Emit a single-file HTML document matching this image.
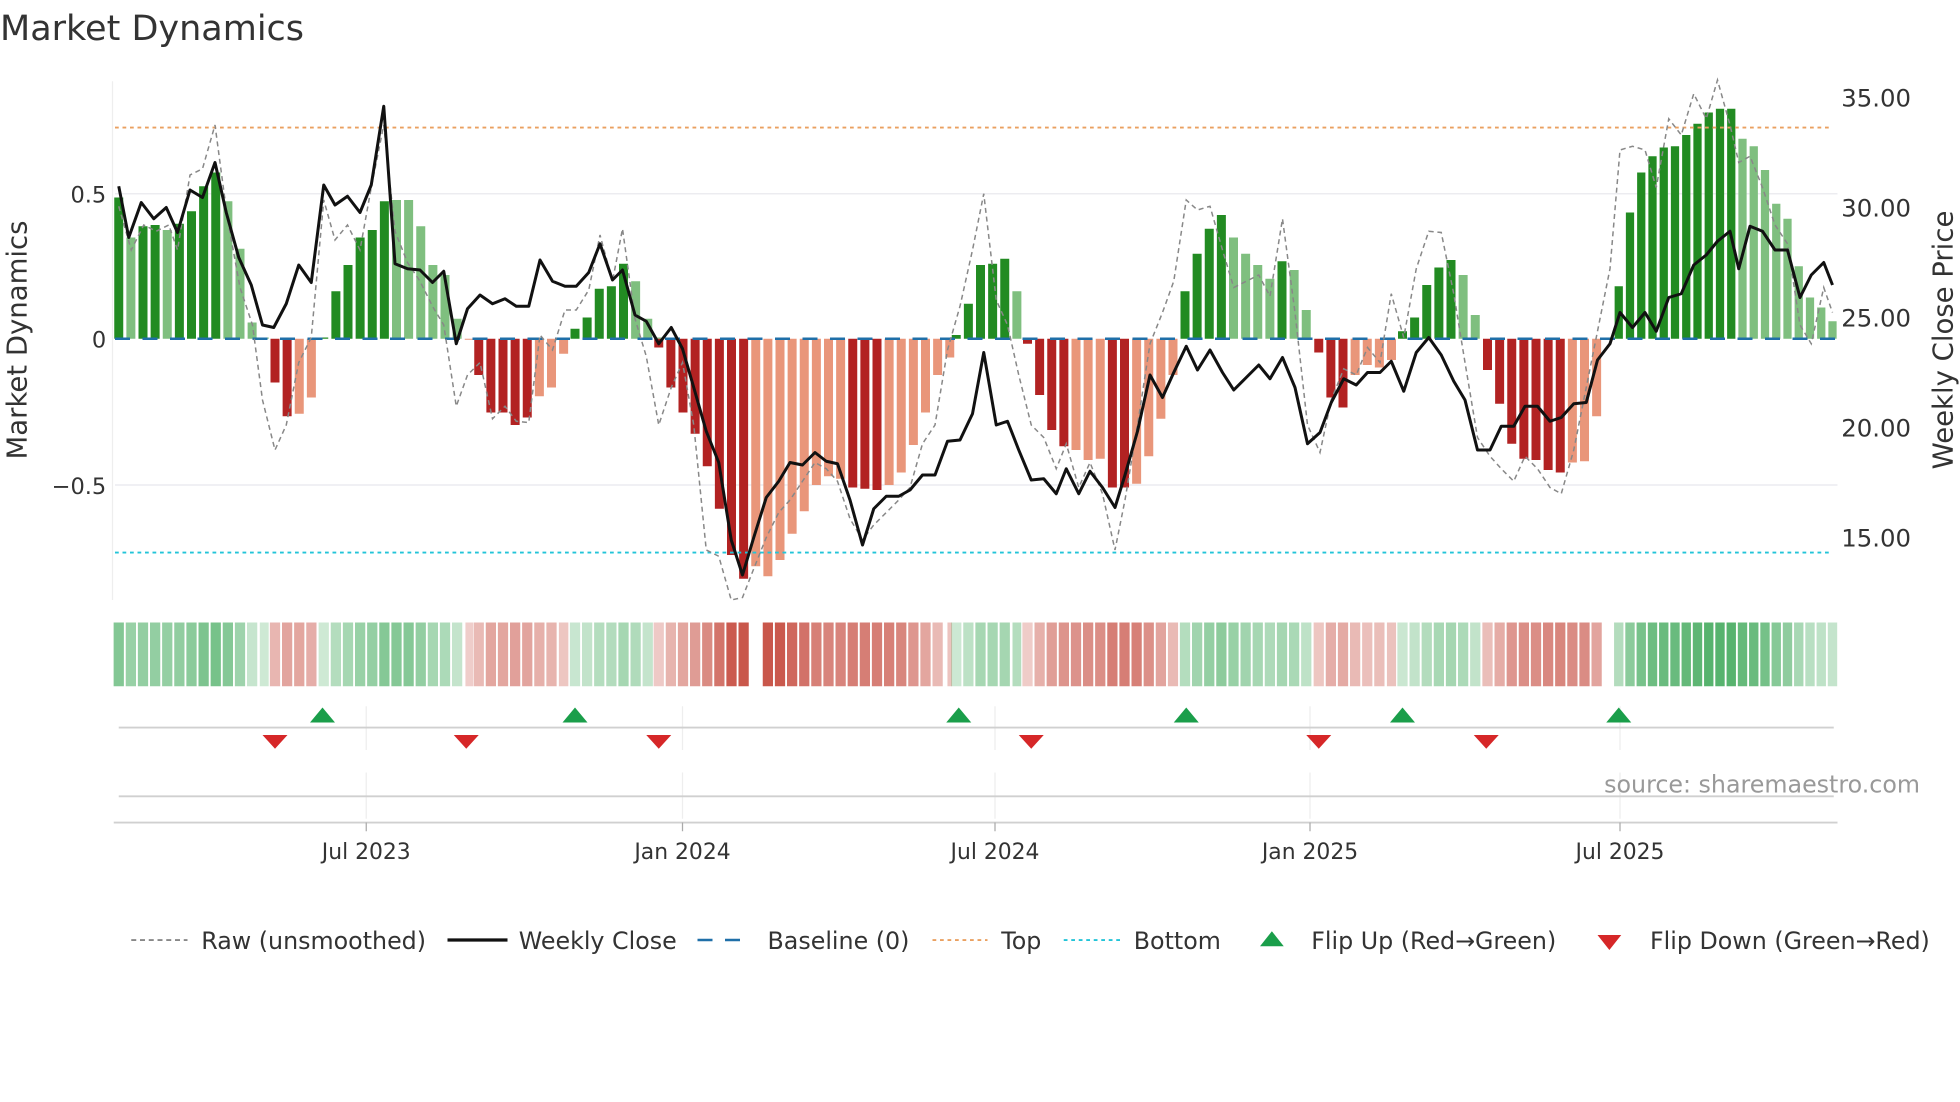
<!DOCTYPE html>
<html><head><meta charset="utf-8"><style>
html,body{margin:0;padding:0;background:#fff;}
svg{display:block;font-family:"DejaVu Sans","Liberation Sans",sans-serif;}
</style></head><body>
<svg id="s" width="1960" height="1102" viewBox="0 0 1568 881.6" xmlns="http://www.w3.org/2000/svg">
<rect width="1568" height="881.6" fill="#fff"/>
<text x="0" y="32" font-size="28" fill="#333">Market Dynamics</text>
<line x1="92" y1="155" x2="1470" y2="155" stroke="#ececf0" stroke-width="1.2"/>
<line x1="92" y1="388" x2="1470" y2="388" stroke="#ececf0" stroke-width="1.2"/>
<line x1="90" y1="65" x2="90" y2="480" stroke="#eee" stroke-width="1"/>
<g id="bars"></g>
<line x1="92" y1="271" x2="1470" y2="271" stroke="#1f6fa8" stroke-width="2" stroke-dasharray="12,10"/>
<line x1="92" y1="102" x2="1465" y2="102" stroke="#eaa060" stroke-width="1.5" stroke-dasharray="3,3"/>
<line x1="92" y1="442" x2="1465" y2="442" stroke="#22c4d8" stroke-width="1.5" stroke-dasharray="3,3"/>
<polyline id="raw" fill="none" stroke="#888" stroke-width="1.2" stroke-dasharray="4,3"/>
<polyline id="close" fill="none" stroke="#111" stroke-width="2.4" stroke-linejoin="round"/>
<g font-size="18" fill="#333">
<text x="85" y="162" text-anchor="end">0.5</text>
<text x="85" y="278" text-anchor="end">0</text>
<text x="85" y="395" text-anchor="end">−0.5</text>
</g>
<g font-size="19.5" fill="#333">
<text x="1473" y="85">35.00</text>
<text x="1473" y="173">30.00</text>
<text x="1473" y="261">25.00</text>
<text x="1473" y="349">20.00</text>
<text x="1473" y="437">15.00</text>
</g>
<text transform="translate(21,272) rotate(-90)" text-anchor="middle" font-size="22" fill="#333">Market Dynamics</text>
<text transform="translate(1562,272) rotate(-90)" text-anchor="middle" font-size="22" fill="#333">Weekly Close Price</text>
<g id="strip"></g>
<g stroke="#eee" stroke-width="1">
<line x1="293" y1="565" x2="293" y2="600"/><line x1="546" y1="565" x2="546" y2="600"/><line x1="796" y1="565" x2="796" y2="600"/><line x1="1048" y1="565" x2="1048" y2="600"/><line x1="1296" y1="565" x2="1296" y2="600"/>
<line x1="293" y1="618" x2="293" y2="655"/><line x1="546" y1="618" x2="546" y2="655"/><line x1="796" y1="618" x2="796" y2="655"/><line x1="1048" y1="618" x2="1048" y2="655"/><line x1="1296" y1="618" x2="1296" y2="655"/>
</g>
<line x1="95" y1="582" x2="1467" y2="582" stroke="#d0d0d0" stroke-width="1.5"/>
<line x1="95" y1="637" x2="1467" y2="637" stroke="#d0d0d0" stroke-width="1.5"/>
<line x1="91" y1="658" x2="1470" y2="658" stroke="#d0d0d0" stroke-width="1.5"/>
<g id="mk"></g>
<g stroke="#aaa" stroke-width="1"><line x1="293" y1="658" x2="293" y2="665"/><line x1="546" y1="658" x2="546" y2="665"/><line x1="796" y1="658" x2="796" y2="665"/><line x1="1048" y1="658" x2="1048" y2="665"/><line x1="1296" y1="658" x2="1296" y2="665"/></g>
<g font-size="17.5" fill="#333" text-anchor="middle">
<text x="293" y="687">Jul 2023</text><text x="546" y="687">Jan 2024</text><text x="796" y="687">Jul 2024</text><text x="1048" y="687">Jan 2025</text><text x="1296" y="687">Jul 2025</text>
</g>
<text x="1536" y="634" text-anchor="end" font-size="19" fill="#999">source: sharemaestro.com</text>
<g font-size="19" fill="#333">
<line x1="105" y1="752" x2="150" y2="752" stroke="#888" stroke-width="1.5" stroke-dasharray="4,3"/>
<text x="161" y="759">Raw (unsmoothed)</text>
<line x1="358" y1="752" x2="406" y2="752" stroke="#111" stroke-width="2.6"/>
<text x="415" y="759">Weekly Close</text>
<line x1="558" y1="752" x2="602" y2="752" stroke="#1f6fa8" stroke-width="2" stroke-dasharray="12,10"/>
<text x="614" y="759">Baseline (0)</text>
<line x1="746" y1="752" x2="790" y2="752" stroke="#eaa060" stroke-width="1.5" stroke-dasharray="3,3"/>
<text x="801" y="759">Top</text>
<line x1="851" y1="752" x2="896" y2="752" stroke="#22c4d8" stroke-width="1.5" stroke-dasharray="3,3"/>
<text x="907" y="759">Bottom</text>
<polygon points="1008,757 1027,757 1017.5,745" fill="#1a9e4a"/>
<text x="1049" y="759">Flip Up (Red→Green)</text>
<polygon points="1278,748 1297,748 1287.5,760" fill="#d62728"/>
<text x="1320" y="759">Flip Down (Green→Red)</text>
</g>
</svg>
<script>
var NS="http://www.w3.org/2000/svg";
function el(p,t,a){var e=document.createElementNS(NS,t);for(var k in a)e.setAttribute(k,a[k]);p.appendChild(e);return e;}
var G=[
[95,[[158,1],[190,0],[181,1],[180,1],[184,0],[179,1],[169,1],[149,1],[138,1],[161,0],[199,0],[258,0],[270,0]]],
[220,[[306,1],[333,1],[331,0],[318,0]]],
[259,[[270,1],[233,1],[212,1],[190,1],[184,1],[161,1],[160,0],[160,0],[181,0],[212,0],[220,0],[255,0],[271,0]]],
[383,[[300,1],[330,1],[330,1],[340,1],[334,1],[317,0],[310,0],[283,0]]],
[460,[[263,1],[254,1],[231,1],[229,1],[211,1],[225,0],[255,0],[270,0]]],
[527,[[278,1],[310,1],[330,1],[347,1],[373,1],[407,1],[444,1],[463,1],[453,0],[461,0],[448,0],[427,0],[409,0],[388,0],[381,0],[383,0],[390,1],[391,1],[392,1],[388,0],[378,0],[356,0],[330,0],[300,0],[286,0]]],
[765,[[268,1],[243,1],[212,1],[211,1],[207,1],[233,0]]],
[822,[[275,1],[316,1],[344,1],[357,1],[360,0],[368,0],[367,0],[390,1],[390,1],[387,0],[365,0],[335,0],[300,0]]],
[948,[[233,1],[203,1],[183,1],[172,1],[190,0],[203,0],[212,0],[223,0],[209,1],[216,0],[248,0]]],
[1055,[[282,1],[318,1],[326,1],[300,0],[292,0],[294,0],[288,0]]],
[1122,[[265,1],[254,1],[228,1],[214,1],[208,1],[220,0],[252,0]]],
[1190,[[296,1],[323,1],[355,1],[367,1],[368,1],[376,1],[378,1],[370,0],[369,0],[333,0]]],
[1295,[[229,1],[170,1],[138,1],[125,1],[118,1],[117,1],[108,1],[99,1],[90,1],[87,1],[87,1],[111,0],[117,0],[136,0],[163,0],[175,0],[213,0],[238,0],[246,0],[257,0]]]
];
var bars=document.getElementById('bars'),strip=document.getElementById('strip');
var all=[];
G.forEach(function(g){var step=g[0]==1295?9.0:9.7;g[1].forEach(function(b,i){all.push([g[0]+i*step,b[0],b[1]]);});});
all.forEach(function(b,idx){
 var x=b[0],y=b[1],pos=y<271;
 var col=pos?(b[2]?"#228b22":"#7fbf7f"):(b[2]?"#b22222":"#e9967a");
 var top=Math.min(y,271),h=Math.abs(271-y);
 if(h<0.8)h=0.8;
 var w=x>=1295?6.6:7.2;
 el(bars,'rect',{x:x-w/2,y:top,width:w,height:h,fill:col});
 if(x>596&&x<606)return;
 var nx=idx<all.length-1?all[idx+1][0]:x+9;
 var sw=Math.min(nx-x,9.7)-1.5;
 var m=Math.min(Math.abs(271-y)/180,1);
 var op=0.25+0.6*m;
 el(strip,'rect',{x:x-sw/2,y:498,width:sw,height:51,fill:pos?"#3aa655":"#c0392b","fill-opacity":op.toFixed(2)});
});
var close=[[95,149],[103,190],[113,162],[123,175],[133,166],[142,186],[152,152],[162,158],[172,130],[181,170],[191,206],[201,228],[210,260],[219,262],[229,243],[239,212],[249,226],[259,148],[268,164],[278,157],[288,170],[297,148],[307,85],[316,211],[326,215],[336,216],[346,226],[355,217],[365,275],[374,247],[384,236],[394,243],[404,239],[413,245],[423,245],[432,208],[442,225],[452,229],[461,229],[471,218],[480,195],[490,224],[498,216],[508,252],[517,257],[527,275],[537,262],[546,279],[555,310],[565,345],[575,370],[585,432],[594,460],[603,430],[613,398],[623,385],[632,370],[642,372],[652,362],[661,369],[670,371],[680,400],[690,436],[699,407],[709,397],[719,397],[728,392],[738,380],[748,380],[758,353],[768,352],[778,331],[787,282],[797,340],[806,337],[815,360],[825,384],[835,383],[845,395],[853,375],[863,395],[872,377],[882,390],[892,406],[900,380],[910,345],[920,300],[930,318],[939,298],[949,277],[958,296],[968,280],[978,298],[987,312],[997,302],[1007,292],[1016,303],[1026,286],[1036,310],[1046,355],[1056,346],[1065,322],[1075,303],[1085,308],[1094,298],[1104,298],[1113,289],[1123,313],[1133,282],[1143,270],[1153,284],[1163,305],[1172,320],[1182,360],[1192,360],[1201,341],[1211,341],[1220,325],[1230,325],[1240,337],[1249,334],[1259,323],[1269,322],[1278,288],[1288,275],[1296,250],[1306,262],[1316,250],[1325,265],[1335,238],[1345,235],[1355,212],[1365,204],[1374,193],[1384,185],[1391,215],[1400,181],[1410,185],[1420,200],[1430,200],[1440,238],[1449,220],[1459,210],[1466,228]];
var raw=[[95,165],[105,200],[115,180],[125,185],[135,180],[142,200],[152,140],[162,135],[172,100],[182,175],[192,230],[202,260],[210,320],[220,360],[229,340],[239,290],[249,270],[259,160],[268,192],[278,180],[288,200],[297,150],[307,100],[316,185],[326,210],[336,225],[346,245],[355,260],[365,325],[374,300],[384,290],[394,335],[404,325],[413,337],[423,338],[432,268],[442,280],[452,248],[461,248],[471,232],[480,188],[490,225],[498,183],[508,255],[517,285],[527,340],[537,310],[546,290],[555,340],[565,440],[575,445],[585,480],[594,478],[603,455],[613,430],[623,410],[632,400],[642,385],[652,370],[661,375],[670,385],[680,415],[690,432],[699,420],[709,410],[719,400],[728,390],[738,355],[748,340],[758,280],[768,245],[778,200],[787,155],[797,240],[806,260],[815,300],[825,340],[835,350],[845,375],[853,355],[863,390],[872,370],[882,395],[892,440],[900,400],[910,340],[920,275],[930,250],[939,225],[949,160],[958,168],[968,165],[978,200],[987,230],[997,225],[1007,220],[1016,237],[1026,175],[1036,250],[1046,340],[1056,362],[1065,320],[1075,295],[1085,300],[1094,278],[1104,290],[1113,235],[1123,270],[1133,215],[1143,185],[1153,186],[1163,235],[1172,290],[1182,350],[1192,365],[1201,375],[1211,385],[1220,365],[1230,375],[1240,390],[1249,395],[1259,360],[1269,310],[1278,265],[1288,215],[1296,120],[1306,117],[1316,120],[1325,150],[1335,95],[1345,108],[1355,75],[1365,95],[1374,64],[1384,100],[1391,130],[1400,125],[1410,150],[1420,180],[1430,195],[1440,260],[1449,275],[1459,230],[1466,250]];
document.getElementById('close').setAttribute('points',close.map(function(p){return p.join(',')}).join(' '));
document.getElementById('raw').setAttribute('points',raw.map(function(p){return p.join(',')}).join(' '));
var mk=document.getElementById('mk');
[258,460,767,949,1122,1295].forEach(function(x){el(mk,'polygon',{points:(x-10)+',578 '+(x+10)+',578 '+x+',566',fill:'#1a9e4a'});});
[220,373,527,825,1055,1189].forEach(function(x){el(mk,'polygon',{points:(x-10)+',588 '+(x+10)+',588 '+x+',599',fill:'#d62728'});});
</script>
</body></html>
